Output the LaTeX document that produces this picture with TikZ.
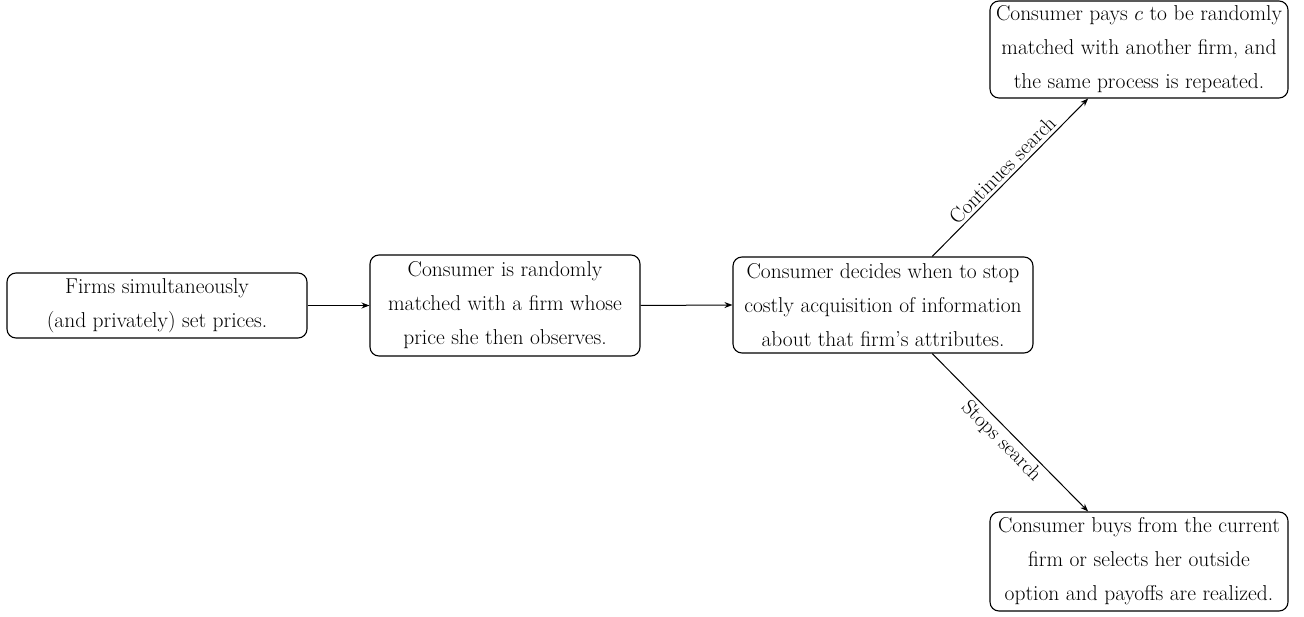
\documentclass[tikz,border=0pt]{standalone}
\usetikzlibrary{arrows.meta,calc}
\begin{document}
\begin{tikzpicture}[x=1pt,y=-1pt,
  stagebox/.style={draw, rounded corners=9pt, line width=1.1pt, align=center,
    inner sep=2pt, font=\fontsize{21.5}{34}\selectfont},
  flow/.style={line width=1pt, -{Stealth[length=8pt,width=6pt]}},
  lab/.style={font=\fontsize{21}{24}\selectfont, sloped, inner sep=3pt}]
\useasboundingbox (0,0) rectangle (1304,617);
\node[stagebox, minimum width=300pt, minimum height=65pt] (b1) at (157,305.5)
  {Firms simultaneously\\(and privately) set prices.};
\node[stagebox, minimum width=270pt, minimum height=101pt] (b2) at (505,305.5)
  {Consumer is randomly\\matched with a firm whose\\price she then observes.};
\node[stagebox, minimum width=300pt, minimum height=96pt] (b3) at (883,305)
  {Consumer decides when to stop\\costly acquisition of information\\about that firm's attributes.};
\node[stagebox, minimum width=298pt, minimum height=97pt] (top) at (1139,49.5)
  {Consumer pays $c$ to be randomly\\matched with another firm, and\\the same process is repeated.};
\node[stagebox, minimum width=298pt, minimum height=99pt] (bot) at (1139,561.5)
  {Consumer buys from the current\\firm or selects her outside\\option and payoffs are realized.};
\draw[flow] (b1.east) -- (b2.west);
\draw[flow] (b2.east) -- (b3.west);
\draw[flow] ($(b3.north)!0.327!(b3.north east)$) -- node[lab, above] {Continues search}
  ($(top.south)!0.34!(top.south west)$);
\draw[flow] ($(b3.south)!0.327!(b3.south east)$) -- node[lab, below] {Stops search}
  ($(bot.north)!0.34!(bot.north west)$);
\end{tikzpicture}
\end{document}
